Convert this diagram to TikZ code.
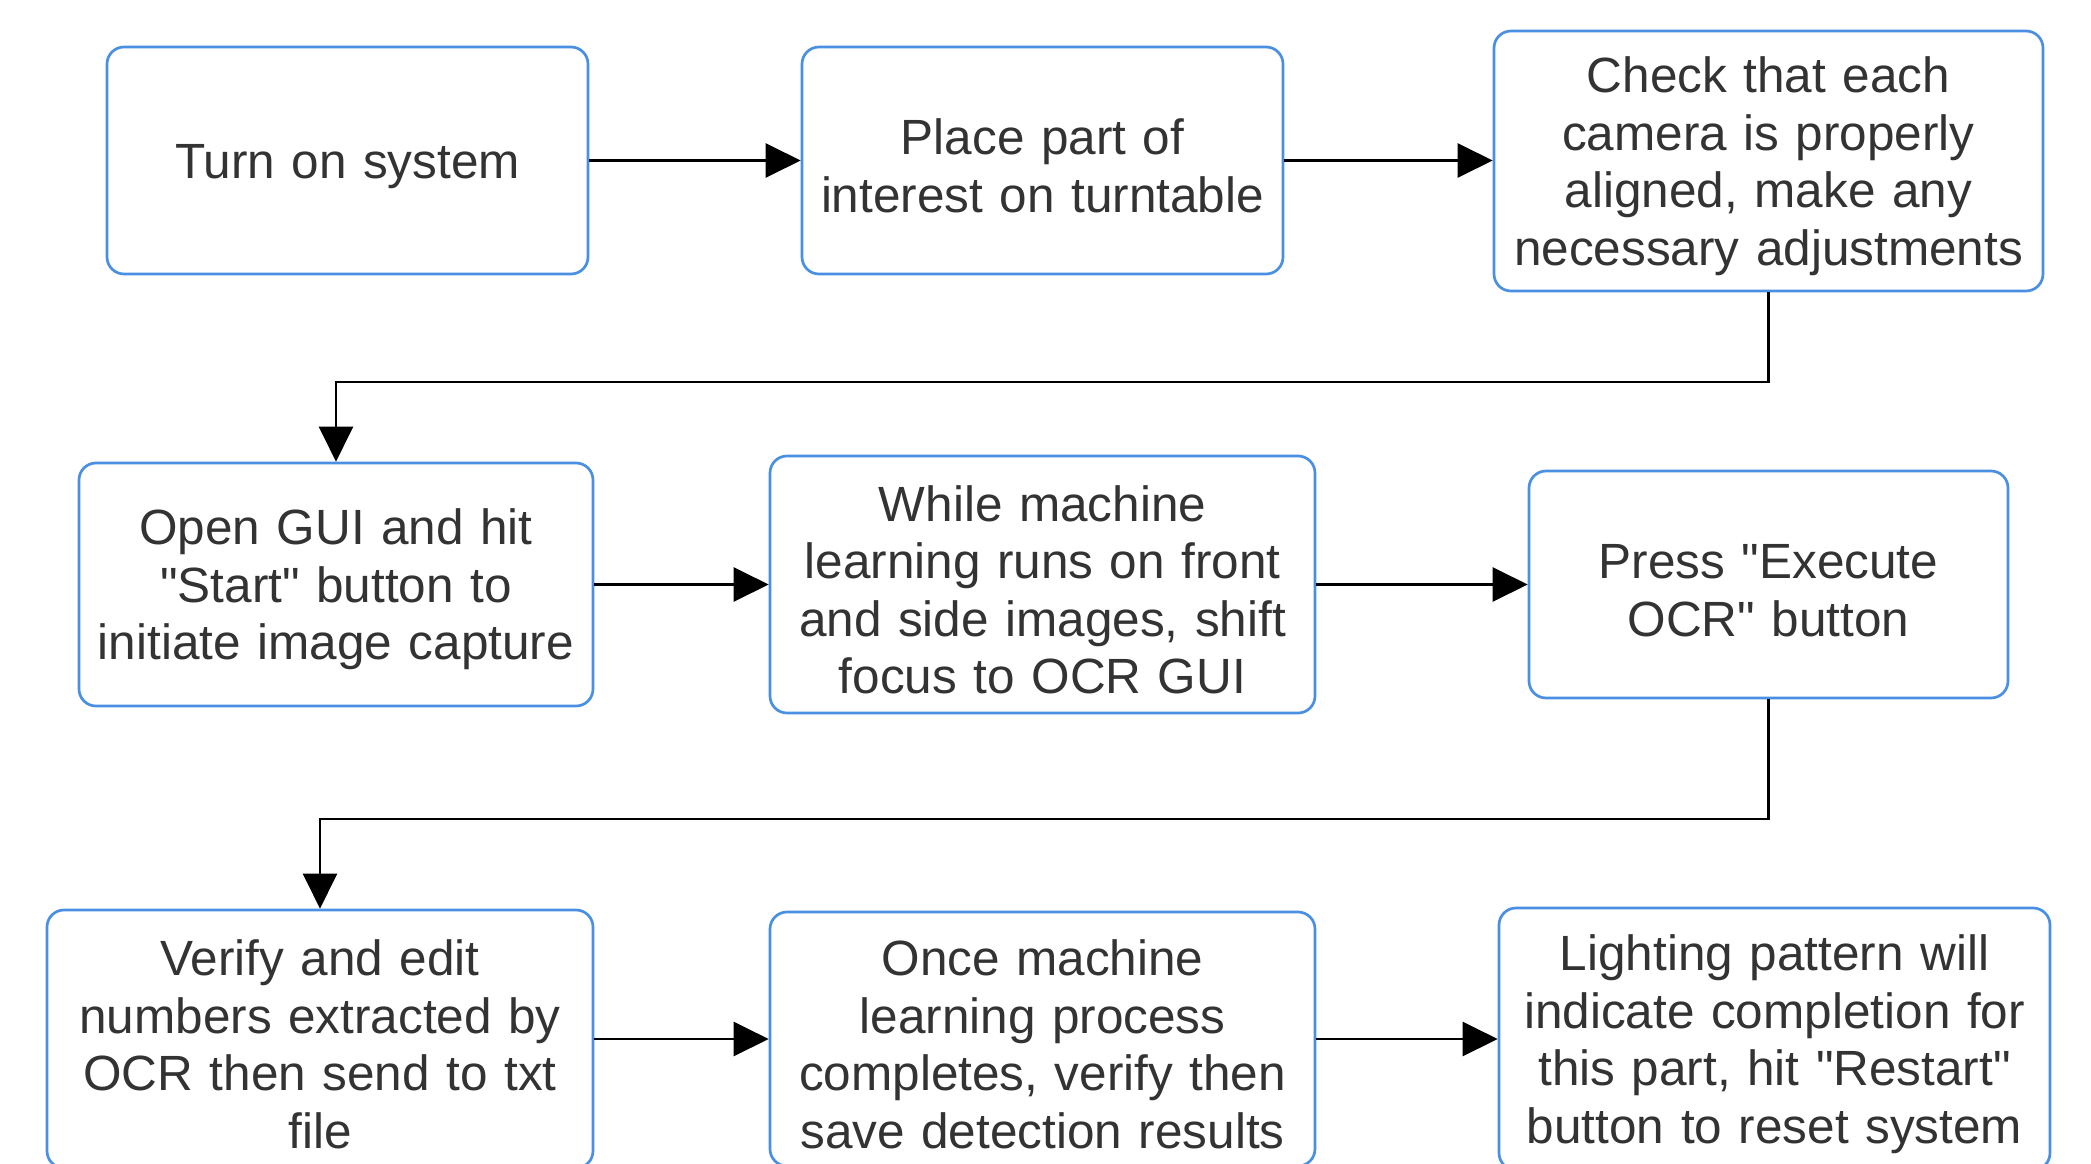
\documentclass[tikz,border=0pt]{standalone}
\usepackage{fontspec}
\newfontfamily\flowfont{Liberation Sans}
\usetikzlibrary{arrows.meta}
\definecolor{boxblue}{RGB}{74,144,226}
\definecolor{txtgray}{RGB}{51,51,51}
\begin{document}
\begin{tikzpicture}[x=1pt,y=-1pt,
  flowbox/.style={draw=boxblue, line width=2.7pt, rounded corners=17pt, fill=white,
    inner sep=0pt, align=center, text=txtgray,
    font=\flowfont\fontsize{49.5}{57.5}\selectfont,
    execute at begin node={\rule{0pt}{46pt}}},
  conn/.style={draw=black, line width=2.7pt, -{Triangle[length=35pt,width=34pt]}}]
\useasboundingbox (0,0) rectangle (2091,1164);
\clip (0,0) rectangle (2091,1164);
\fill[white] (0,0) rectangle (2091,1164);
% row 1
\node[flowbox, minimum width=481pt, minimum height=227pt, text width=470pt] (b1) at (347.5,160.5) {Turn on system};
\node[flowbox, minimum width=481pt, minimum height=227pt, text width=470pt] (b2) at (1042.5,160.5) {Place part of\\interest on turntable};
\node[flowbox, minimum width=549pt, minimum height=260pt, text width=540pt] (b3) at (1768.5,161) {Check that each\\camera is properly\\aligned, make any\\necessary adjustments};
% row 2
\node[flowbox, minimum width=514pt, minimum height=243pt, text width=505pt] (b4) at (336,584.5) {Open GUI and hit\\"Start" button to\\initiate image capture};
\node[flowbox, minimum width=545pt, minimum height=257pt, text width=535pt] (b5) at (1042.5,584.5) {While machine\\learning runs on front\\and side images, shift\\focus to OCR GUI};
\node[flowbox, minimum width=479pt, minimum height=227pt, text width=470pt] (b6) at (1768.5,584.5) {Press "Execute\\OCR" button};
% row 3
\node[flowbox, minimum width=546pt, minimum height=258pt, text width=536pt] (b7) at (320,1039) {Verify and edit\\numbers extracted by\\OCR then send to txt\\file};
\node[flowbox, minimum width=545pt, minimum height=254pt, text width=535pt] (b8) at (1042.5,1039) {Once machine\\learning process\\completes, verify then\\save detection results};
\node[flowbox, minimum width=551pt, minimum height=262pt, text width=541pt] (b9) at (1774.5,1039) {Lighting pattern will\\indicate completion for\\this part, hit "Restart"\\button to reset system};
% connectors
\draw[conn] (b1.east) -- (b1.east -| b2.west);
\draw[conn] (b2.east) -- (b2.east -| b3.west);
\coordinate (h1) at (0,382);
\draw[conn] (b3.south) -- (b3.south |- h1) -| (b4.north);
\draw[conn] (b4.east) -- (b4.east -| b5.west);
\draw[conn] (b5.east) -- (b5.east -| b6.west);
\coordinate (h2) at (0,819);
\draw[conn] (b6.south) -- (b6.south |- h2) -| (b7.north);
\draw[conn] (b7.east) -- (b7.east -| b8.west);
\draw[conn] (b8.east) -- (b8.east -| b9.west);
\end{tikzpicture}
\end{document}
